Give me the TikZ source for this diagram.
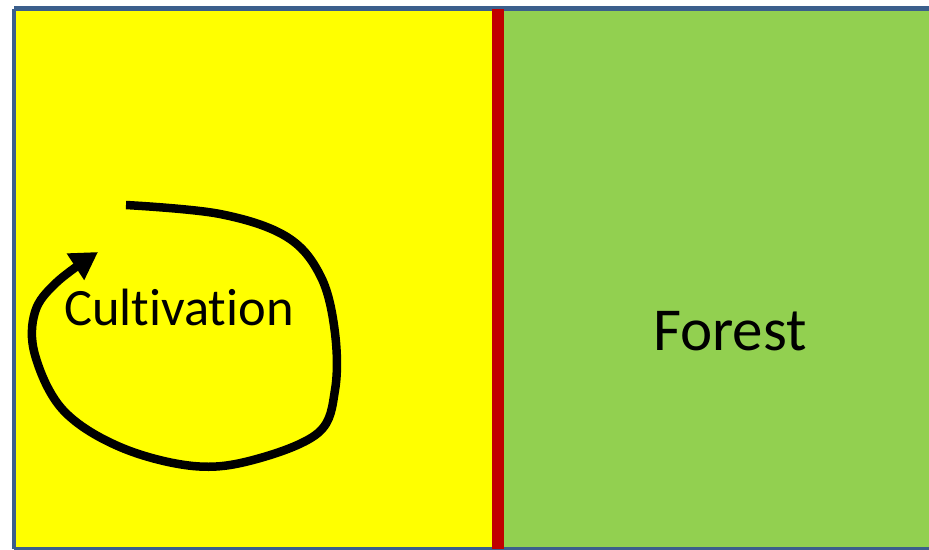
\documentclass[tikz,border=0pt]{standalone}
\usepackage{fontspec}
\setmainfont{Carlito}[Ligatures=NoCommon]
\usetikzlibrary{arrows.meta}
\definecolor{fieldyellow}{HTML}{FFFF00}
\definecolor{forestgreen}{HTML}{92D050}
\definecolor{borderred}{HTML}{C00000}
\definecolor{frameblue}{HTML}{3B5F8C}
\tikzset{
  label text/.style={font=\fontsize{#1}{#1}\selectfont, text=black, inner sep=0pt, anchor=base},
  cycle arrow/.style={line width=8.5pt, draw=black, line cap=butt,
    -{Triangle[length=27pt,width=30pt]}},
}
\begin{document}
\begin{tikzpicture}[x=1pt,y=-1pt]
\useasboundingbox (0,0) rectangle (929,549);
% fields
\fill[fieldyellow] (14,8) rectangle (497,549);
\fill[forestgreen] (497,8) rectangle (929,549);
% frame
\draw[frameblue, line width=4.5pt] (14,8.5) -- (940,8.5);
\draw[frameblue, line width=4pt] (14,8.5) -- (14,549);
\draw[frameblue, line width=3pt] (14,548.5) -- (940,548.5);
% boundary
\fill[borderred] (492,9) rectangle (504,549);
% texts
\node[label text=52.5] (cult) at (179,325) {Cultivation};
\node[label text=61] (forest) at (730,350) {Forest};
% cycle arrow
\draw[cycle arrow] plot[smooth, tension=0.6] coordinates {
  (126,205) (220,214) (287,237) (321,277) (335,333) (335,390)
  (318,433) (253,460) (193,466) (120,447) (63,410) (35,355)
  (35,312) (57,282) (98,252)};
\end{tikzpicture}
\end{document}
